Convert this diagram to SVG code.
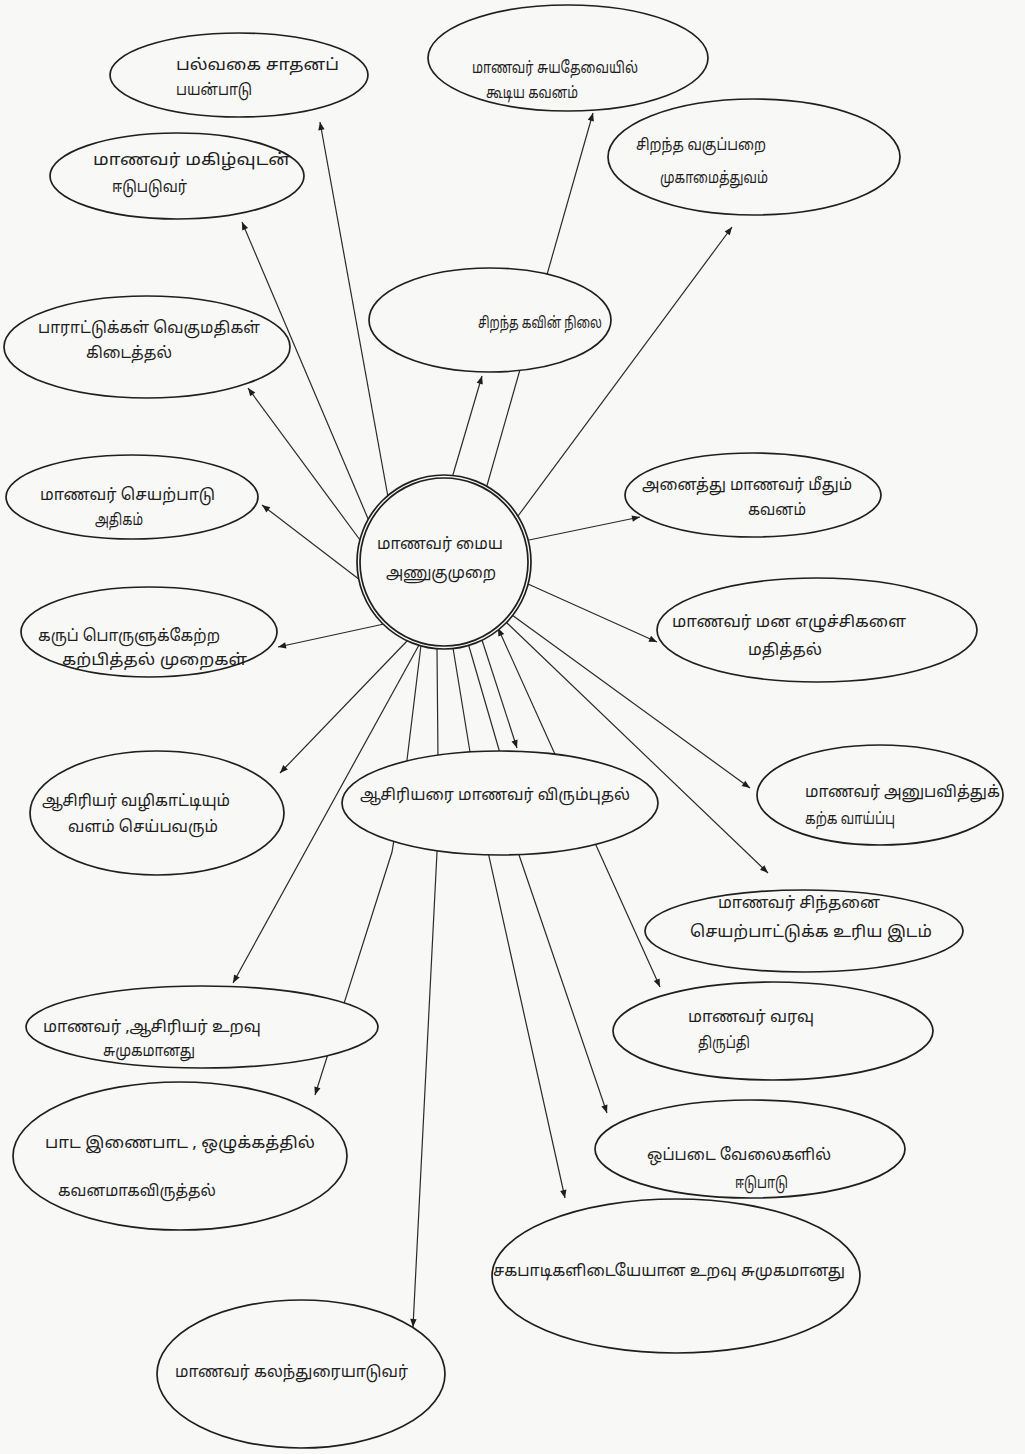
<svg xmlns="http://www.w3.org/2000/svg" width="1025" height="1454" viewBox="0 0 1025 1454">
<defs>
<style>
.bg{fill:#f8f8f6}
.n ellipse,.n circle{fill:#f8f8f6;stroke:#1f1f1f;stroke-width:1.7}
.c line,.c path{fill:none;stroke:#2a2a2a;stroke-width:1.2}
text{font-family:"Noto Sans Tamil","Lohit Tamil","Latha","Noto Sans",sans-serif;font-size:16px;fill:#1e1e1e}
</style>
<marker id="ah" viewBox="0 0 10 10" refX="10" refY="5" markerWidth="11" markerHeight="8" markerUnits="userSpaceOnUse" orient="auto-start-reverse">
<path d="M0,1 L10,5 L0,9 z" fill="#1e1e1e"/>
</marker>
</defs>
<rect class="bg" x="0" y="0" width="1025" height="1454"/>

<g id="connectors" class="c">
<line x1="388" y1="497" x2="320" y2="122" marker-end="url(#ah)"/>
<line x1="369" y1="521" x2="242" y2="222" marker-end="url(#ah)"/>
<line x1="360" y1="540" x2="248" y2="388" marker-end="url(#ah)"/>
<line x1="360" y1="580" x2="262" y2="505" marker-end="url(#ah)"/>
<line x1="384" y1="624" x2="278" y2="647" marker-end="url(#ah)"/>
<line x1="452" y1="478" x2="482" y2="376" marker-end="url(#ah)"/>
<line x1="486" y1="489" x2="593" y2="113" marker-end="url(#ah)"/>
<line x1="518" y1="516" x2="732" y2="227" marker-end="url(#ah)"/>
<line x1="529" y1="540" x2="640" y2="517" marker-end="url(#ah)"/>
<line x1="528" y1="584" x2="657" y2="642" marker-end="url(#ah)"/>
<line x1="512" y1="615" x2="750" y2="788" marker-end="url(#ah)"/>
<line x1="506" y1="622" x2="768" y2="873" marker-end="url(#ah)"/>
<line x1="498" y1="628" x2="660" y2="987" marker-start="url(#ah)" marker-end="url(#ah)"/>
<line x1="482" y1="640" x2="517" y2="748" marker-end="url(#ah)"/>
<path d="M468,643 L502,760 L518,852 L607,1113" marker-end="url(#ah)"/>
<path d="M453,648 L470,752 L488,852 L565,1198" marker-end="url(#ah)"/>
<path d="M437,648 L438,760 L437,852 L413,1327" marker-end="url(#ah)"/>
<path d="M421,645 L407,760 L392,852 L315,1095" marker-end="url(#ah)"/>
<line x1="419" y1="645" x2="233" y2="983" marker-end="url(#ah)"/>
<line x1="408" y1="640" x2="280" y2="773" marker-end="url(#ah)"/>
</g>

<g id="center" class="n">
<circle cx="444" cy="562" r="87"/>
<circle cx="444" cy="562" r="84"/>
<text x="377" y="549" textLength="126" lengthAdjust="spacingAndGlyphs">மாணவர் மைய</text>
<text x="386" y="578" textLength="110" lengthAdjust="spacingAndGlyphs">அணுகுமுறை</text>
</g>

<g id="n1" class="n">
<ellipse cx="239" cy="75" rx="129" ry="42"/>
<text x="176" y="70" textLength="163" lengthAdjust="spacingAndGlyphs">பல்வகை சாதனப்</text>
<text x="176" y="95" textLength="76" lengthAdjust="spacingAndGlyphs">பயன்பாடு</text>
</g>
<g id="n2" class="n">
<ellipse cx="177" cy="176" rx="127" ry="43"/>
<text x="93" y="165" textLength="198" lengthAdjust="spacingAndGlyphs">மாணவர் மகிழ்வுடன்</text>
<text x="112" y="192" textLength="75" lengthAdjust="spacingAndGlyphs">ஈடுபடுவர்</text>
</g>
<g id="n3" class="n">
<ellipse cx="568" cy="58" rx="140" ry="53"/>
<text x="472" y="73" textLength="166" lengthAdjust="spacingAndGlyphs">மாணவர் சுயதேவையில்</text>
<text x="486" y="98" textLength="92" lengthAdjust="spacingAndGlyphs">கூடிய கவனம்</text>
</g>
<g id="n4" class="n">
<ellipse cx="754" cy="157" rx="146" ry="58"/>
<text x="636" y="150" textLength="130" lengthAdjust="spacingAndGlyphs">சிறந்த வகுப்பறை</text>
<text x="660" y="183" textLength="108" lengthAdjust="spacingAndGlyphs">முகாமைத்துவம்</text>
</g>
<g id="n5" class="n">
<ellipse cx="490" cy="320" rx="121" ry="52"/>
<text x="478" y="328" textLength="124" lengthAdjust="spacingAndGlyphs">சிறந்த கவின் நிலை</text>
</g>
<g id="n6" class="n">
<ellipse cx="147" cy="347" rx="143" ry="51"/>
<text x="38" y="333" textLength="222" lengthAdjust="spacingAndGlyphs">பாராட்டுக்கள் வெகுமதிகள்</text>
<text x="86" y="358" textLength="86" lengthAdjust="spacingAndGlyphs">கிடைத்தல்</text>
</g>
<g id="n7" class="n">
<ellipse cx="132" cy="497" rx="126" ry="42"/>
<text x="40" y="500" textLength="175" lengthAdjust="spacingAndGlyphs">மாணவர்   செயற்பாடு</text>
<text x="95" y="525" textLength="48" lengthAdjust="spacingAndGlyphs">அதிகம்</text>
</g>
<g id="n8" class="n">
<ellipse cx="149" cy="632" rx="128" ry="45"/>
<text x="38" y="641" textLength="182" lengthAdjust="spacingAndGlyphs">கருப் பொருளுக்கேற்ற</text>
<text x="62" y="665" textLength="185" lengthAdjust="spacingAndGlyphs">கற்பித்தல் முறைகள்</text>
</g>
<g id="n9" class="n">
<ellipse cx="753" cy="495" rx="128" ry="42"/>
<text x="642" y="490" textLength="210" lengthAdjust="spacingAndGlyphs">அனைத்து மாணவர் மீதும்</text>
<text x="748" y="515" textLength="58" lengthAdjust="spacingAndGlyphs">கவனம்</text>
</g>
<g id="n10" class="n">
<ellipse cx="817" cy="630" rx="160" ry="52"/>
<text x="672" y="627" textLength="234" lengthAdjust="spacingAndGlyphs">மாணவர் மன எழுச்சிகளை</text>
<text x="748" y="655" textLength="74" lengthAdjust="spacingAndGlyphs">மதித்தல்</text>
</g>
<g id="n11" class="n">
<ellipse cx="157" cy="813" rx="127" ry="62"/>
<text x="42" y="806" textLength="188" lengthAdjust="spacingAndGlyphs">ஆசிரியர் வழிகாட்டியும்</text>
<text x="68" y="832" textLength="150" lengthAdjust="spacingAndGlyphs">வளம் செய்பவரும்</text>
</g>
<g id="n12" class="n">
<ellipse cx="500" cy="803" rx="158" ry="52"/>
<text x="360" y="800" textLength="270" lengthAdjust="spacingAndGlyphs">ஆசிரியரை மாணவர் விரும்புதல்</text>
</g>
<g id="n13" class="n">
<ellipse cx="880" cy="795" rx="123" ry="50"/>
<text x="805" y="797" textLength="195" lengthAdjust="spacingAndGlyphs">மாணவர் அனுபவித்துக்</text>
<text x="805" y="824" textLength="90" lengthAdjust="spacingAndGlyphs">கற்க வாய்ப்பு</text>
</g>
<g id="n14" class="n">
<ellipse cx="804" cy="931" rx="159" ry="41"/>
<text x="718" y="908" textLength="162" lengthAdjust="spacingAndGlyphs">மாணவர் சிந்தனை</text>
<text x="690" y="937" textLength="242" lengthAdjust="spacingAndGlyphs">செயற்பாட்டுக்க உரிய இடம்</text>
</g>
<g id="n15" class="n">
<ellipse cx="773" cy="1031" rx="160" ry="49"/>
<text x="688" y="1022" textLength="126" lengthAdjust="spacingAndGlyphs">மாணவர் வரவு</text>
<text x="698" y="1048" textLength="52" lengthAdjust="spacingAndGlyphs">திருப்தி</text>
</g>
<g id="n16" class="n">
<ellipse cx="202" cy="1027" rx="176" ry="41"/>
<text x="43" y="1032" textLength="218" lengthAdjust="spacingAndGlyphs">மாணவர் ,ஆசிரியர் உறவு</text>
<text x="103" y="1056" textLength="92" lengthAdjust="spacingAndGlyphs">சுமுகமானது</text>
</g>
<g id="n17" class="n">
<ellipse cx="180" cy="1156" rx="167" ry="74"/>
<text x="45" y="1148" textLength="270" lengthAdjust="spacingAndGlyphs">பாட இணைபாட , ஒழுக்கத்தில்</text>
<text x="58" y="1196" textLength="158" lengthAdjust="spacingAndGlyphs">கவனமாகவிருத்தல்</text>
</g>
<g id="n18" class="n">
<ellipse cx="301" cy="1374" rx="144" ry="74"/>
<text x="175" y="1377" textLength="233" lengthAdjust="spacingAndGlyphs">மாணவர் கலந்துரையாடுவர்</text>
</g>
<g id="n19" class="n">
<ellipse cx="750" cy="1149" rx="155" ry="49"/>
<text x="647" y="1160" textLength="184" lengthAdjust="spacingAndGlyphs">ஒப்படை வேலைகளில்</text>
<text x="735" y="1188" textLength="53" lengthAdjust="spacingAndGlyphs">ஈடுபாடு</text>
</g>
<g id="n20" class="n">
<ellipse cx="676" cy="1276" rx="184" ry="77"/>
<text x="493" y="1276" textLength="352" lengthAdjust="spacingAndGlyphs">சகபாடிகளிடையேயான உறவு சுமுகமானது</text>
</g>
</svg>
